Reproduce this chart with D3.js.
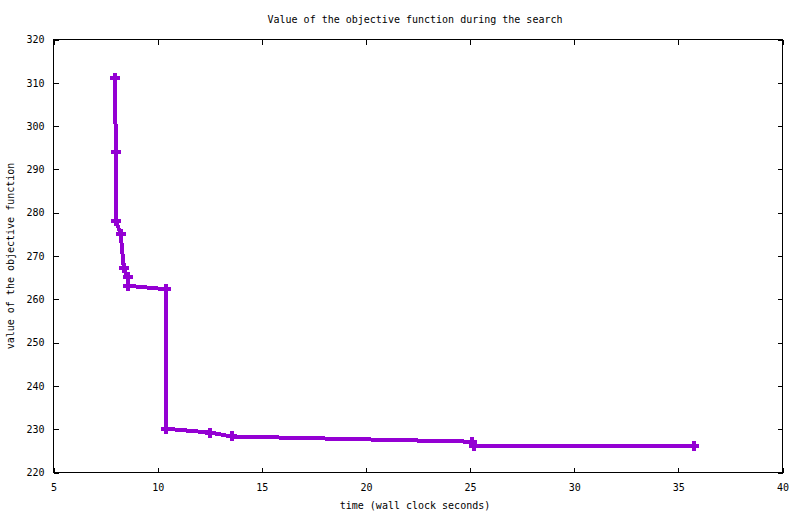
<!DOCTYPE html>
<html>
<head>
	<meta charset=utf-8>
	<title>Value of the objective function during the search</title>
	<script src="https://d3js.org/d3.v7.min.js"></script>
	<style type="text/css">
		body{
			margin: 0;
			background: #fff;
		}
		text{
			font-family: "DejaVu Sans Mono", "Liberation Mono", monospace;
			font-size: 10px;
			fill: #000;
		}
	</style>
</head>
<body>
	<svg id="chart" width="800" height="514"></svg>

	<script type="text/javascript">
		// search progress: wall clock seconds vs objective value
		const times  = [7.97, 8.02, 8.02, 8.25, 8.40, 8.58, 8.61, 10.42, 10.42, 12.56, 13.57, 25.12, 25.23, 35.78];
		const values = [311, 294, 278, 275, 267, 265, 263, 262.2, 230, 229.1, 228.2, 227, 226, 226];
		const xTicks = [5, 10, 15, 20, 25, 30, 35, 40];
		const yTicks = [220, 230, 240, 250, 260, 270, 280, 290, 300, 310, 320];

		const plotL = 53, plotR = 782, plotT = 39, plotB = 472;
		const col = '#9400d3';

		const svg = d3.select('#chart');

		const x = d3.scaleLinear().domain([5, 40]).range([plotL, plotR]);
		const y = d3.scaleLinear().domain([220, 320]).range([plotB, plotT]);

		const data = times.map((t, i) => ({t: t, v: values[i]}));

		// frame
		svg.append('rect')
			.attr('x', plotL + 0.5)
			.attr('y', plotT + 0.5)
			.attr('width', plotR - plotL)
			.attr('height', plotB - plotT)
			.attr('fill', 'none')
			.attr('stroke', '#000')
			.attr('stroke-width', 1)
			.attr('shape-rendering', 'crispEdges');

		// axes, ticks inward + mirrored
		const fmt = d3.format('d');
		svg.append('g')
			.attr('transform', `translate(0.5, ${plotB + 0.5})`)
			.call(d3.axisBottom(x).tickValues(xTicks).tickSize(-5).tickPadding(11).tickFormat(fmt))
			.call(g => g.select('.domain').remove());
		svg.append('g')
			.attr('transform', `translate(0.5, ${plotT + 0.5})`)
			.call(d3.axisTop(x).tickValues(xTicks).tickSize(-5).tickFormat(''))
			.call(g => g.select('.domain').remove());
		svg.append('g')
			.attr('transform', `translate(${plotL + 0.5}, 0.5)`)
			.call(d3.axisLeft(y).tickValues(yTicks).tickSize(-5).tickPadding(9).tickFormat(fmt))
			.call(g => g.select('.domain').remove());
		svg.append('g')
			.attr('transform', `translate(${plotR + 0.5}, 0.5)`)
			.call(d3.axisRight(y).tickValues(yTicks).tickSize(-5).tickFormat(''))
			.call(g => g.select('.domain').remove());

		svg.selectAll('.tick text')
			.attr('font-family', null)
			.attr('font-size', null);
		svg.selectAll('.tick line')
			.attr('stroke', '#000')
			.attr('shape-rendering', 'crispEdges');

		// line
		const line = d3.line()
			.x(d => x(d.t))
			.y(d => y(d.v));

		svg.append('path')
			.datum(data)
			.attr('d', line)
			.attr('fill', 'none')
			.attr('stroke', col)
			.attr('stroke-width', 4)
			.attr('shape-rendering', 'crispEdges');

		// plus markers
		const s = 5;
		svg.append('g')
			.selectAll('path')
			.data(data)
			.enter()
			.append('path')
			.attr('d', d => {
				const px = x(d.t), py = y(d.v);
				return `M${px - s},${py}H${px + s}M${px},${py - s}V${py + s}`;
			})
			.attr('stroke', col)
			.attr('stroke-width', 4)
			.attr('fill', 'none')
			.attr('shape-rendering', 'crispEdges');

		// titles
		svg.append('text')
			.attr('x', 415)
			.attr('y', 23)
			.attr('text-anchor', 'middle')
			.text('Value of the objective function during the search');

		svg.append('text')
			.attr('x', 415)
			.attr('y', 509)
			.attr('text-anchor', 'middle')
			.text('time (wall clock seconds)');

		svg.append('text')
			.attr('transform', 'translate(14, 256) rotate(-90)')
			.attr('text-anchor', 'middle')
			.text('value of the objective function');
	</script>
</body>
</html>
